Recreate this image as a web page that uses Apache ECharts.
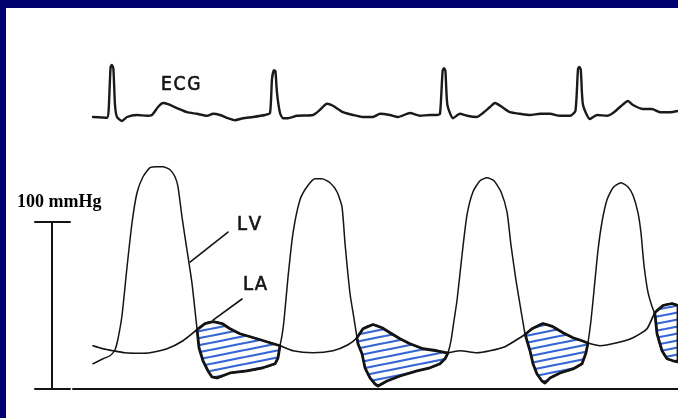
<!DOCTYPE html>
<html><head><meta charset="utf-8">
<script src="https://cdn.jsdelivr.net/npm/echarts@6/dist/echarts.min.js"></script>
<style>html,body{margin:0;padding:0;background:#fff}#c{width:678px;height:418px}</style>
</head><body><div id="c"></div>
<script>
// ---- data (time in ms, ECG in mV, pressures in mmHg) ----
const ecgTime = [0,70,78,88,95,102,110,120,145,170,220,270,295,325,350,375,420,470,520,570,600,635,675,710,750,800,860,885,895,905,912,920,935,950,975,1020,1100,1135,1170,1200,1250,1300,1350,1400,1435,1485,1525,1585,1635,1685,1720,1735,1748,1755,1762,1772,1800,1835,1870,1920,1950,1985,2010,2045,2085,2135,2185,2235,2285,2335,2385,2412,2425,2432,2439,2450,2485,2520,2570,2600,2635,2675,2700,2750,2795,2835,2885,2925];
const ecgMv = [0,-0.02,0.15,1.25,1.30,1.20,0.30,0,-0.10,0,0.05,0.03,0.05,0.25,0.35,0.32,0.22,0.12,0.08,0.03,0.08,0.05,-0.03,-0.08,-0.03,0,0.05,0.10,0.95,1.17,1.15,0.60,0.10,-0.03,-0.03,0.03,0.05,0.18,0.33,0.28,0.12,0.05,0,0,0.08,0.05,0,0.10,0.03,0.05,0.05,0.08,1.15,1.22,1.15,0.30,-0.03,0.08,0.03,0,0.10,0.25,0.35,0.25,0.12,0.08,0.05,0.08,0.08,0.03,0.03,0.15,1.20,1.25,1.18,0.30,-0.05,0.05,0.03,0.10,0.25,0.40,0.30,0.20,0.20,0.12,0.12,0.15];

const lvTime = [0,50,85,110,125,145,170,195,220,250,285,320,350,385,410,425,445,470,495,510,520,530,550,575,595,620,685,770,850,910,925,935,945,955,975,1000,1035,1070,1110,1145,1185,1220,1245,1260,1285,1305,1320,1325,1345,1360,1385,1410,1425,1470,1535,1620,1685,1735,1760,1775,1790,1805,1820,1845,1870,1900,1935,1970,2005,2040,2070,2090,2115,2140,2160,2170,2185,2200,2220,2245,2260,2285,2335,2400,2445,2465,2475,2490,2505,2525,2545,2570,2600,2640,2675,2700,2725,2740,2755,2775,2795,2810,2820,2845,2870,2900,2925];
const lvPressure = [15.1,18.1,19.9,23.5,30.1,44.0,72.9,99.4,117.5,127.1,132.5,133.1,133.1,131.3,127.1,121.1,103.0,83.1,63.3,47.0,36.1,24.7,16.9,10.8,7.2,6.6,9.6,10.8,12.7,15.1,18.7,25.9,31.9,41.0,66.9,93.4,113.3,121.1,125.9,125.9,123.5,118.1,109.0,87.3,57.2,42.2,30.7,27.1,21.1,12.7,6.6,3.0,1.8,4.8,7.8,10.8,12.7,15.1,18.1,21.7,28.9,41.0,53.0,80.1,104.2,118.1,124.7,126.5,124.7,118.1,106.0,86.1,65.1,47.0,33.1,28.9,22.9,15.1,9.0,4.8,3.6,6.6,9.6,12.0,15.1,21.7,27.7,41.0,59.0,83.1,100.0,113.3,120.5,123.5,121.0,116.0,105.5,93.4,74.1,57.8,49.4,44.6,33.1,22.9,18.1,16.9,16.3];

const laTime = [0,50,100,160,235,285,370,450,520,560,600,645,685,735,820,885,935,1000,1100,1200,1275,1320,1350,1400,1445,1485,1535,1585,1650,1720,1770,1835,1920,1985,2060,2135,2165,2195,2250,2300,2350,2400,2445,2470,2535,2620,2700,2770,2810,2850,2895,2925];
const laPressure = [25.9,24.1,22.9,21.7,21.4,21.7,24.1,28.9,35.5,39.2,40.4,39.2,36.1,33.1,30.1,27.7,25.9,22.9,21.7,22.9,26.5,30.7,36.1,38.6,36.7,33.7,30.1,27.1,24.1,22.9,21.7,22.9,21.7,22.9,25.3,30.7,33.1,36.1,39.2,37.3,33.7,30.7,28.9,27.7,25.9,27.7,30.7,36.1,45.8,50.0,51.2,50.0];

// time windows in which the LA > LV gradient is hatched
const hatchWindows = [[480,1000],[1290,1830],[2130,2520],[2780,2925]];
// baseline (0 mmHg) and 100 mmHg calibration bar
const baselineTime = [-100, 2925];
const scaleBarTime = [-290, -205, -115];
const scaleBarPressure = [0, 100];
// label pointer lines [time, mmHg]
const lvPointer = [[675, 94.0], [485, 76.0]];
const laPointer = [[745, 53.9], [600, 41.3]];
const labels = ['ECG', 'LV', 'LA', '100 mmHg'];

[[ecgTime, ecgMv], [lvTime, lvPressure], [laTime, laPressure]].forEach(function (p, i) {
  if (p[0].length !== p[1].length) throw new Error('length mismatch ' + i + ': ' + p[0].length + ' vs ' + p[1].length);
});

function zip(a, b) { return a.map(function (v, i) { return [v, b[i]]; }); }
function interp(ts, vs, t) {
  if (t <= ts[0]) return vs[0];
  for (let i = 1; i < ts.length; i++) {
    if (t <= ts[i]) return vs[i - 1] + (vs[i] - vs[i - 1]) * (t - ts[i - 1]) / (ts[i] - ts[i - 1]);
  }
  return vs[vs.length - 1];
}
function blobPolygon(w0, w1) {
  const times = Array.from(new Set(lvTime.concat(laTime).filter(function (t) { return t >= w0 && t <= w1; }))).sort(function (a, b) { return a - b; });
  const d = times.map(function (t) { return interp(laTime, laPressure, t) - interp(lvTime, lvPressure, t); });
  let i = 0; while (i < d.length && d[i] <= 0) i++;
  let j = i; while (j + 1 < d.length && d[j + 1] > 0) j++;
  const ts = i > 0 ? times[i - 1] + (times[i] - times[i - 1]) * (-d[i - 1]) / (d[i] - d[i - 1]) : times[0];
  const te = j < times.length - 1 ? times[j] + (times[j + 1] - times[j]) * d[j] / (d[j] - d[j + 1]) : times[j];
  const top = [[ts, interp(laTime, laPressure, ts)]];
  laTime.forEach(function (t, k) { if (t > ts && t < te) top.push([t, laPressure[k]]); });
  top.push([te, interp(laTime, laPressure, te)]);
  const bottom = [[te, interp(lvTime, lvPressure, te)]];
  for (let k = lvTime.length - 1; k >= 0; k--) { if (lvTime[k] > ts && lvTime[k] < te) bottom.push([lvTime[k], lvPressure[k]]); }
  bottom.push([ts, interp(lvTime, lvPressure, ts)]);
  return top.concat(bottom);
}
const blobs = hatchWindows.map(function (w) { return blobPolygon(w[0], w[1]); });

// hatch pattern tile (slanted blue stripes)
const tile = document.createElement('canvas');
tile.width = 35; tile.height = 7;
(function () {
  const c = tile.getContext('2d');
  c.strokeStyle = '#3566d4'; c.lineWidth = 2.2;
  [0, 7, 14].forEach(function (y0) { c.beginPath(); c.moveTo(0, y0); c.lineTo(35, y0 - 7); c.stroke(); });
})();

const X_MIN = -465, X_MAX = 2925;
const ink = '#141414';
const condensed = '"DejaVu Sans Condensed", "Liberation Sans Narrow", sans-serif';

const chart = echarts.init(document.getElementById('c'), null, { renderer: 'canvas' });
function hiddenX(gi) { return { type: 'value', gridIndex: gi, min: X_MIN, max: X_MAX, show: false }; }
function lineSeries(data, width, gi, extra) {
  return Object.assign({
    type: 'line', xAxisIndex: gi, yAxisIndex: gi, data: data, showSymbol: false, symbol: 'none',
    smooth: false, silent: true, clip: false,
    lineStyle: { color: ink, width: width, cap: 'round', join: 'round' }, z: 3
  }, extra || {});
}
function label(text, x, y, size) {
  return { type: 'text', x: x, y: y, z: 50,
    style: { text: text.split('').join('\u200A'), font: size + 'px ' + condensed, fill: ink, stroke: ink, lineWidth: 0.6, verticalAlign: 'middle' } };
}

chart.setOption({
  animation: false,
  backgroundColor: '#ffffff',
  grid: [
    { left: 0, right: 0, top: 57, bottom: 281, containLabel: false },
    { left: 0, right: 0, top: 155.2, bottom: 12.3, containLabel: false }
  ],
  xAxis: [hiddenX(0), hiddenX(1)],
  yAxis: [
    { type: 'value', gridIndex: 0, min: -0.5, max: 1.5, show: false },
    { type: 'value', gridIndex: 1, min: -10, max: 140, show: false }
  ],
  series: [
    {
      type: 'custom', xAxisIndex: 1, yAxisIndex: 1, silent: true, z: 2,
      data: hatchWindows, encode: { x: [0, 1] },
      renderItem: function (params, api) {
        const pts = blobs[params.dataIndex].map(function (p) { return api.coord(p); });
        return {
          type: 'polygon', shape: { points: pts },
          style: { fill: { image: tile, repeat: 'repeat' }, stroke: ink, lineWidth: 2.8, lineJoin: 'round' }
        };
      }
    },
    lineSeries(zip(ecgTime, ecgMv), 2.4, 0, { smooth: 0.2, lineStyle: { color: '#1a1a1a', width: 2.4, cap: 'round', join: 'round' } }),
    lineSeries(zip(lvTime, lvPressure), 1.5, 1, { smooth: 0.2 }),
    lineSeries(zip(laTime, laPressure), 1.7, 1, { smooth: 0.2 }),
    lineSeries([[baselineTime[0], 0], [baselineTime[1], 0]], 2, 1),
    lineSeries([[scaleBarTime[1], scaleBarPressure[0]], [scaleBarTime[1], scaleBarPressure[1]]], 2, 1),
    lineSeries([[scaleBarTime[0], scaleBarPressure[1]], [scaleBarTime[2], scaleBarPressure[1]]], 2, 1),
    lineSeries([[scaleBarTime[0], scaleBarPressure[0]], [scaleBarTime[2], scaleBarPressure[0]]], 2, 1),
    lineSeries(lvPointer, 1.6, 1),
    lineSeries(laPointer, 1.6, 1)
  ],
  graphic: [
    { type: 'rect', shape: { x: 0, y: 0, width: 678, height: 8 }, style: { fill: '#000070' }, z: 100 },
    { type: 'rect', shape: { x: 0, y: 0, width: 6, height: 418 }, style: { fill: '#000070' }, z: 100 },
    label(labels[0], 161, 85, 19),
    label(labels[1], 237, 225, 20),
    label(labels[2], 243, 285, 20),
    { type: 'text', x: 17, y: 202, style: { text: labels[3], font: 'bold 18px "Liberation Serif", "DejaVu Serif", serif', fill: '#000', verticalAlign: 'middle' }, z: 50 }
  ]
});
</script></body></html>
